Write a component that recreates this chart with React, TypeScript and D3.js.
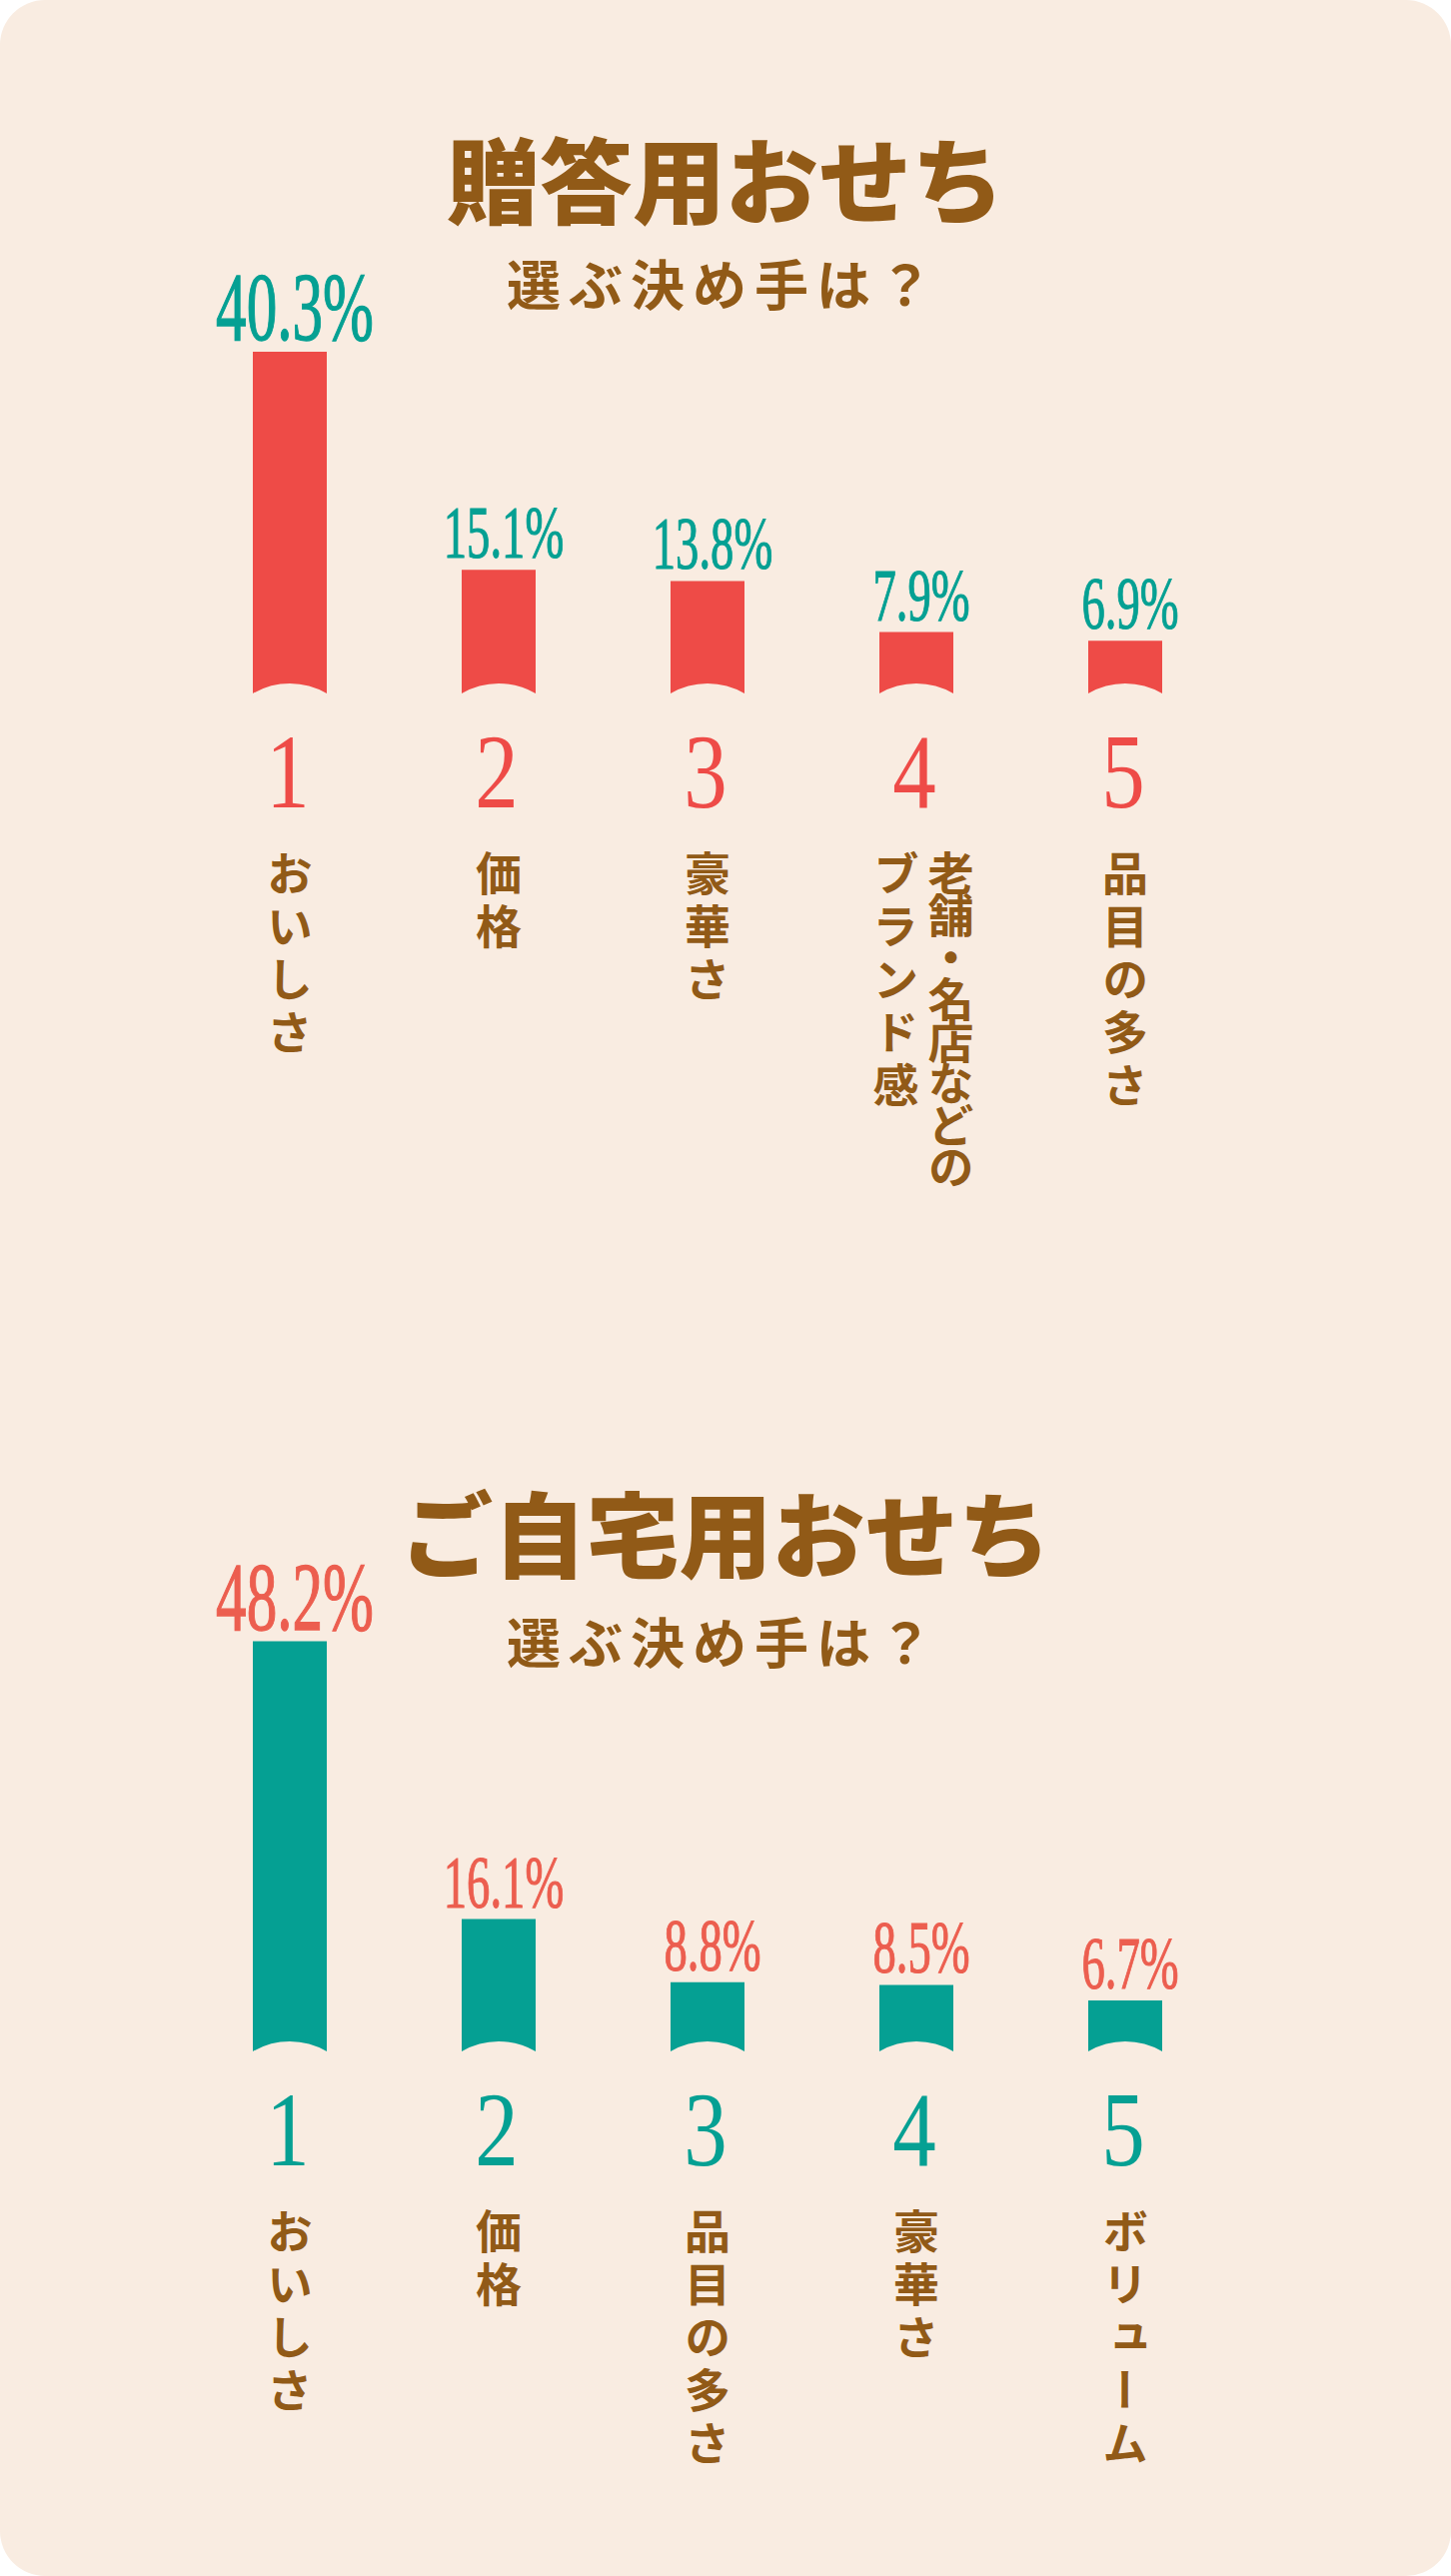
import React from "react";
import * as d3 from "d3";

const WIDTH = 1452;
const HEIGHT = 2578;

const RANKS = ["1", "2", "3", "4", "5"];

const GIFT_TITLE = "贈答用おせち";
const GIFT_SUBTITLE = "選ぶ決め手は？";
const GIFT_CATEGORIES = [["おいしさ"], ["価格"], ["豪華さ"], ["老舗・名店などの", "ブランド感"], ["品目の多さ"]];
const GIFT_VALUES = [40.3, 15.1, 13.8, 7.9, 6.9];

const HOME_TITLE = "ご自宅用おせち";
const HOME_SUBTITLE = "選ぶ決め手は？";
const HOME_CATEGORIES = [["おいしさ"], ["価格"], ["品目の多さ"], ["豪華さ"], ["ボリューム"]];
const HOME_VALUES = [48.2, 16.1, 8.8, 8.5, 6.7];

const BG = "#F9ECE1";
const RED = "#EE4B47";
const SALMON = "#EC5E4F";
const TEAL = "#05A093";
const BROWN = "#915A17";

const JP_FONT = "'Noto Sans CJK JP', 'Noto Sans CJK SC', sans-serif";
const NUM_FONT = "'Liberation Serif', 'DejaVu Serif', serif";

type ChartProps = {
  title: string;
  subtitle: string;
  categories: string[][];
  values: number[];
  barColor: string;
  valueColor: string;
  offsetY: number;
};

function Chart({ title, subtitle, categories, values, barColor, valueColor, offsetY }: ChartProps) {
  const barBottom = 694 + offsetY;
  const barWidth = 74;
  const x = d3.scalePoint<string>().domain(RANKS).range([290, 1126]);
  const y = d3.scaleLinear().domain([0, 50]).range([barBottom + 7, barBottom + 7 - 50 * 8.66]);

  const barPath = (cx: number, top: number) => {
    const x0 = cx - barWidth / 2;
    const x1 = cx + barWidth / 2;
    const sag = 10;
    const half = barWidth / 2;
    const r = (half * half + sag * sag) / (2 * sag);
    const p = d3.path();
    p.moveTo(x0, top);
    p.lineTo(x1, top);
    p.lineTo(x1, barBottom);
    return `${p.toString()} A ${r} ${r} 0 0 0 ${x0} ${barBottom} Z`;
  };

  return (
    <g>
      <text
        x={726}
        y={217 + offsetY - (offsetY ? 4 : 0)}
        textAnchor="middle"
        fontFamily={JP_FONT}
        fontWeight={900}
        fontSize={93}
        fill={BROWN}
      >
        {title}
      </text>
      <text
        x={724}
        y={306 + offsetY}
        textAnchor="middle"
        fontFamily={JP_FONT}
        fontWeight={700}
        fontSize={54}
        letterSpacing={8}
        fill={BROWN}
      >
        {subtitle}
      </text>
      {values.map((v, i) => {
        const cx = x(RANKS[i]) as number;
        const top = y(v);
        const big = i === 0;
        return (
          <g key={i}>
            <path d={barPath(cx, top)} fill={barColor} />
            <g transform={`translate(${cx + 5}, ${top - 12}) scale(0.63, 1)`}>
              <text
                x={0}
                y={0}
                textAnchor="middle"
                fontFamily={NUM_FONT}
                fontSize={big ? 97 : 74}
                fill={valueColor}
                stroke={valueColor}
                strokeWidth={big ? 1.3 : 1.1}
              >
                {`${v.toFixed(1)}%`}
              </text>
            </g>
            <g transform={`translate(${cx - 2}, ${barBottom + 114}) scale(0.82, 1)`}>
              <text x={0} y={0} textAnchor="middle" fontFamily={NUM_FONT} fontSize={106} fill={barColor}>
                {RANKS[i]}
              </text>
            </g>
            {categories[i].map((line, j) => {
              const n = categories[i].length;
              const colX = n === 1 ? cx : cx + 7 + 27.5 - j * 55;
              const spacing = n > 1 && j === 0 ? -4 : 7;
              return (
                <text
                  key={j}
                  x={colX}
                  y={851 + offsetY}
                  fontFamily={JP_FONT}
                  fontWeight={700}
                  fontSize={46}
                  letterSpacing={spacing}
                  fill={BROWN}
                  style={{ writingMode: "vertical-rl" as any }}
                >
                  {line}
                </text>
              );
            })}
          </g>
        );
      })}
    </g>
  );
}

export default function App() {
  return (
    <svg
      width={WIDTH}
      height={HEIGHT}
      viewBox={`0 0 ${WIDTH} ${HEIGHT}`}
      style={{ position: "absolute", left: 0, top: 0, display: "block" }}
    >
      <rect x={0} y={0} width={WIDTH} height={HEIGHT} rx={45} ry={45} fill={BG} />
      <Chart
        title={GIFT_TITLE}
        subtitle={GIFT_SUBTITLE}
        categories={GIFT_CATEGORIES}
        values={GIFT_VALUES}
        barColor={RED}
        valueColor={TEAL}
        offsetY={0}
      />
      <Chart
        title={HOME_TITLE}
        subtitle={HOME_SUBTITLE}
        categories={HOME_CATEGORIES}
        values={HOME_VALUES}
        barColor={TEAL}
        valueColor={SALMON}
        offsetY={1359}
      />
    </svg>
  );
}
